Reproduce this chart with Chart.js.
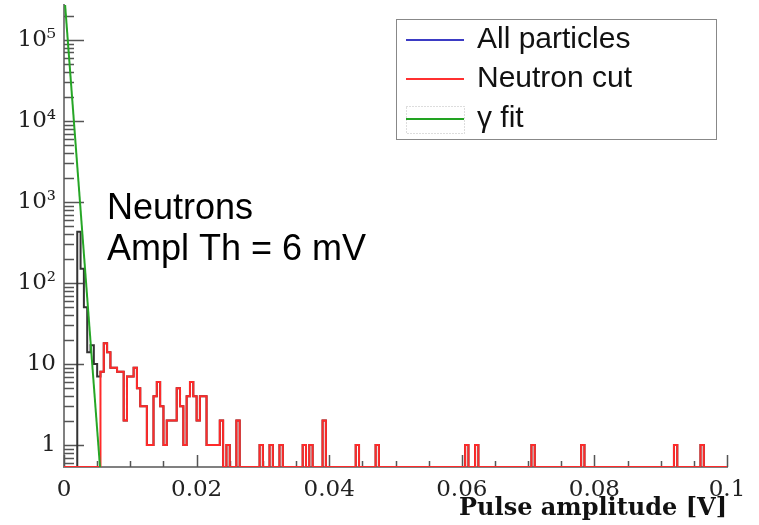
<!DOCTYPE html>
<html>
<head>
<meta charset="utf-8">
<script src="https://cdn.jsdelivr.net/npm/chart.js@4.4.1/dist/chart.umd.min.js"></script>
<style>
  html, body { margin: 0; padding: 0; background: #fff; }
  #wrap { width: 759px; height: 525px; }
</style>
</head>
<body>
<div id="wrap"><canvas id="pulse" width="759" height="525"></canvas></div>
<script>
/* ── binning: 200 bins of 0.5 mV over 0–0.1 V ── */
const BIN_WIDTH = 0.0005;
const N_BINS = 200;

/* neutron cut histogram (bin index -> entries, empty bins left out) */
const neutronBins   = [12, 13, 14, 15, 16, 17, 18, 19, 20, 21, 22, 23, 24, 25, 26, 27, 28, 29, 30, 31,
                       32, 33, 34, 35, 36, 37, 38, 39, 40, 41, 42, 43, 44, 45, 46, 47, 48, 50, 53, 60,
                       63, 66, 73, 75, 79, 89, 95, 122, 125, 142, 157, 185, 193];
const neutronCounts = [8, 18, 14, 9, 9, 8, 8, 2, 7, 7, 9, 5, 3, 3, 1, 1, 4, 6, 3, 1,
                       2, 2, 2, 5, 3, 1, 4, 6, 4, 2, 4, 4, 1, 1, 1, 1, 2, 1, 2, 1,
                       1, 1, 1, 1, 2, 1, 1, 1, 1, 1, 1, 1, 1];

/* all particles below the 6 mV threshold (above it they equal the neutron cut) */
const allLowBins   = [5, 6, 7, 8, 9, 10, 11];
const allLowCounts = [430, 150, 50, 14, 17, 10, 7];

/* gamma exponential fit: straight line on the log axis, end points */
const gammaFitX = [0, 0.00543];
const gammaFitY = [4.1e5, 0.535];

/* axes */
const X_MIN = 0, X_MAX = 0.1;
const Y_MIN = 0.535, Y_MAX = 2.7e5;
const xTicks      = [0, 0.02, 0.04, 0.06, 0.08, 0.1];
const xTickLabels = ['0', '0.02', '0.04', '0.06', '0.08', '0.1'];
const yTicks      = [1, 10, 100, 1e3, 1e4, 1e5];
const yTickLabels = ['1', '10', '10²', '10³', '10⁴', '10⁵'];

/* ── build step points; empty bins sit on the frame bottom ── */
function fillBins(bins, counts, base) {
  const out = base ? base.slice() : new Array(N_BINS).fill(0);
  bins.forEach((b, i) => (out[b] = counts[i]));
  return out;
}
function stepPoints(counts) {
  const pts = counts.map((c, i) => ({ x: i * BIN_WIDTH, y: c > 0 ? c : Y_MIN }));
  pts.push({ x: N_BINS * BIN_WIDTH, y: pts[pts.length - 1].y });
  return pts;
}

const neutronHist = fillBins(neutronBins, neutronCounts);
const allHist     = fillBins(allLowBins, allLowCounts, neutronHist);

/* ── inward tick marks (ROOT style) ── */
const innerTicks = {
  id: 'innerTicks',
  beforeDatasetsDraw(chart) {
    const { ctx, chartArea: a, scales: { x, y } } = chart;
    ctx.save();
    ctx.strokeStyle = '#555';
    ctx.lineWidth = 1.5;
    ctx.beginPath();
    for (let k = 0; k <= 20; k++) {
      const px = Math.round(x.getPixelForValue(k * 0.005)) + 0.5;
      const len = k % 4 === 0 ? 12 : 6;
      ctx.moveTo(px, a.bottom);
      ctx.lineTo(px, a.bottom - len);
    }
    for (let d = -1; d <= 5; d++) {
      for (let m = 1; m <= 9; m++) {
        const v = m * Math.pow(10, d);
        if (v < Y_MIN || v > Y_MAX) continue;
        const py = Math.round(y.getPixelForValue(v)) + 0.5;
        ctx.moveTo(a.left, py);
        ctx.lineTo(a.left + (m === 1 ? 20 : 10), py);
      }
    }
    ctx.stroke();
    ctx.restore();
  }
};

/* ── legend box + annotation ── */
const boxLegend = {
  id: 'boxLegend',
  afterDraw(chart) {
    const ctx = chart.ctx;
    ctx.save();
    ctx.strokeStyle = '#888';
    ctx.lineWidth = 1;
    ctx.strokeRect(396.5, 19.5, 320, 120);

    const rows = [
      { text: 'All particles', color: '#3b3bc4', y: 40 },
      { text: 'Neutron cut',   color: '#ff3030', y: 79 },
      { text: 'γ fit',         color: '#22a322', y: 119 }
    ];
    // dotted fill marker around the fit entry
    ctx.setLineDash([1, 2]);
    ctx.strokeStyle = '#bbb';
    ctx.strokeRect(406.5, 106.5, 58, 27);
    ctx.setLineDash([]);

    ctx.lineWidth = 2;
    ctx.font = '30px "Liberation Sans", Arial, sans-serif';
    ctx.fillStyle = '#111';
    ctx.textBaseline = 'alphabetic';
    rows.forEach(r => {
      ctx.strokeStyle = r.color;
      ctx.beginPath();
      ctx.moveTo(406, r.y);
      ctx.lineTo(464, r.y);
      ctx.stroke();
      ctx.fillText(r.text, 477, r.y + 8);
    });

    ctx.fillStyle = '#000';
    ctx.font = '36px "Liberation Sans", Arial, sans-serif';
    ctx.fillText('Neutrons', 107, 219);
    ctx.fillText('Ampl Th = 6 mV', 107, 260);
    ctx.restore();
  }
};

const tickFont = { family: '"DejaVu Serif", serif', size: 23 };

new Chart(document.getElementById('pulse'), {
  type: 'scatter',
  data: {
    datasets: [
      {
        label: 'All particles',
        data: stepPoints(allHist),
        showLine: true,
        stepped: 'after',
        borderColor: '#333',
        borderWidth: 2,
        pointRadius: 0,
        order: 2
      },
      {
        label: 'Neutron cut',
        data: stepPoints(neutronHist),
        showLine: true,
        stepped: 'after',
        borderColor: '#ff2a2a',
        borderWidth: 2,
        pointRadius: 0,
        order: 1
      },
      {
        label: 'γ fit',
        data: gammaFitX.map((v, i) => ({ x: v, y: gammaFitY[i] })),
        showLine: true,
        borderColor: '#26a626',
        borderWidth: 2,
        pointRadius: 0,
        order: 0
      }
    ]
  },
  options: {
    responsive: false,
    animation: false,
    events: [],
    layout: { padding: { left: 0, right: 32, top: 5, bottom: 0 } },
    plugins: { legend: { display: false }, tooltip: { enabled: false } },
    scales: {
      x: {
        type: 'linear',
        min: X_MIN,
        max: X_MAX,
        afterFit: s => { s.height = 58; s.paddingLeft = 0; s.paddingRight = 0; },
        afterBuildTicks: s => { s.ticks = xTicks.map(v => ({ value: v })); },
        grid: { display: false, drawTicks: false },
        border: { display: true, color: '#808080', width: 2 },
        ticks: {
          autoSkip: false,
          maxRotation: 0,
          padding: 9,
          color: '#222',
          font: tickFont,
          callback: (v, i) => xTickLabels[i]
        },
        title: {
          display: true,
          text: 'Pulse amplitude [V]',
          align: 'end',
          color: '#111',
          font: { family: '"DejaVu Serif", serif', size: 24, weight: 'bold' },
          padding: { top: 0, bottom: 2 }
        }
      },
      y: {
        type: 'logarithmic',
        min: Y_MIN,
        max: Y_MAX,
        afterFit: s => { s.width = 64; s.paddingTop = 0; s.paddingBottom = 0; },
        afterBuildTicks: s => { s.ticks = yTicks.map(v => ({ value: v })); },
        grid: { display: false, drawTicks: false },
        border: { display: true, color: '#808080', width: 2 },
        ticks: {
          autoSkip: false,
          padding: 8,
          color: '#222',
          font: tickFont,
          callback: (v, i) => yTickLabels[i]
        }
      }
    }
  },
  plugins: [innerTicks, boxLegend]
});
</script>
</body>
</html>
